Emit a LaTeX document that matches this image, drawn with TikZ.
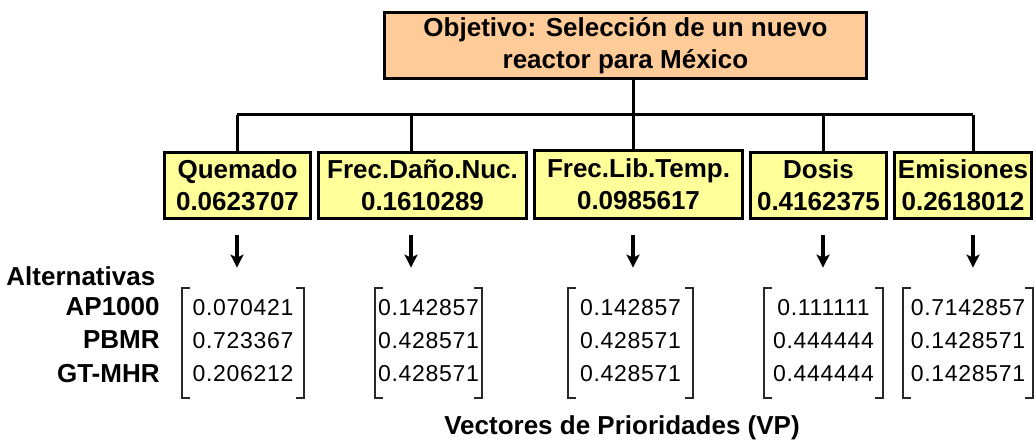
\documentclass[tikz,border=0pt]{standalone}
\usepackage{fontspec}
\setmainfont{Liberation Sans}
\newfontfamily\numfont[LetterSpace=3]{Liberation Sans}
\usetikzlibrary{arrows.meta}
\definecolor{durazno}{RGB}{255,204,153}
\definecolor{amarillo}{RGB}{255,255,153}
\definecolor{corch}{RGB}{40,40,40}

\begin{document}
\begin{tikzpicture}[x=0.5pt, y=-0.5pt, >={Stealth[length=6.5pt, width=6.5pt, inset=1.5pt]},
    every node/.style={font=\fontsize{13}{16.2}\selectfont\bfseries, inner sep=0pt},
    objetivo/.style={draw, line width=1.5pt, fill=durazno, align=center, minimum width=241pt, minimum height=33pt},
    criterio/.style={draw, line width=1.5pt, fill=amarillo, align=center, minimum height=33pt},
    vector/.style={align=center, minimum height=55pt, text depth=3pt, font=\numfont\fontsize{11.5}{16.5}\selectfont},
    rama/.style={line width=1.5pt},
    flecha/.style={->, line width=1.6pt},
    corchete/.style={line width=1pt, corch}]
  \useasboundingbox (0,0) rectangle (1036,443);

  % objetivo
  \node[objetivo] (obj) at (625.5,45.5) {\raisebox{-1.5pt}{Objetivo: Selección de un nuevo}\\\raisebox{-1.5pt}{reactor para México}};

  % criterios
  \node[criterio, minimum width=73pt] (q) at (237.5,185.5) {Quemado\\0.0623707};
  \node[criterio, minimum width=104pt] (d) at (422.5,185.5) {Frec.Daño.Nuc.\\0.1610289};
  \node[criterio, minimum width=104pt, minimum height=34pt] (l) at (638.5,184.5) {Frec.Lib.Temp.\\0.0985617};
  \node[criterio, minimum width=68pt] (s) at (818.5,185.5) {Dosis\\0.4162375};
  \node[criterio, minimum width=68.5pt] (e) at (963,185.5) {Emisiones\\0.2618012};

  % ramas del árbol
  \coordinate (bq) at (237,115);
  \coordinate (bd) at (411,115);
  \coordinate (bl) at (633,115);
  \coordinate (bs) at (823,115);
  \coordinate (be) at (973,115);
  \draw[rama] (bl |- obj.south) -- (bl);
  \draw[rama] (bq) -- (be);
  \foreach \b/\c in {bq/q, bd/d, bl/l, bs/s, be/e}
    \draw[rama] (\b) -- (\b |- \c.north);

  % vectores de prioridades
  \node[vector, minimum width=61pt] (vq) at (243,343) {0.070421\\0.723367\\0.206212};
  \node[vector, minimum width=53.5pt] (vd) at (428.5,343) {0.142857\\0.428571\\0.428571};
  \node[vector, minimum width=62.5pt] (vl) at (630.5,343) {0.142857\\0.428571\\0.428571};
  \node[vector, minimum width=59.5pt] (vs) at (823.5,343) {0.111111\\0.444444\\0.444444};
  \node[vector, minimum width=65pt] (ve) at (968,343) {0.7142857\\0.1428571\\0.1428571};
  \foreach \v in {vq, vd, vl, vs, ve} {
    \draw[corchete] ([xshift=4pt]\v.north west) -- (\v.north west) -- (\v.south west) -- ([xshift=4pt]\v.south west);
    \draw[corchete] ([xshift=-4pt]\v.north east) -- (\v.north east) -- (\v.south east) -- ([xshift=-4pt]\v.south east);
  }

  % flechas
  \foreach \b/\c/\v in {bq/q/vq, bd/d/vd, bl/l/vl, bs/s/vs, be/e/ve}
    \draw[flecha] ([yshift=-7.5pt]\b |- \c.south) -- ([yshift=10pt]\b |- \v.north);

  % alternativas
  \node[anchor=west] (alt) at (6,276) {Alternativas};
  \node[anchor=east] (ap) at (160,307) {AP1000};
  \node[anchor=east] (pb) at (160,340) {PBMR};
  \node[anchor=east] (gt) at (160,374) {GT-MHR};

  % leyenda
  \node (vp) at (622,428) {Vectores de Prioridades (VP)};
\end{tikzpicture}
\end{document}
